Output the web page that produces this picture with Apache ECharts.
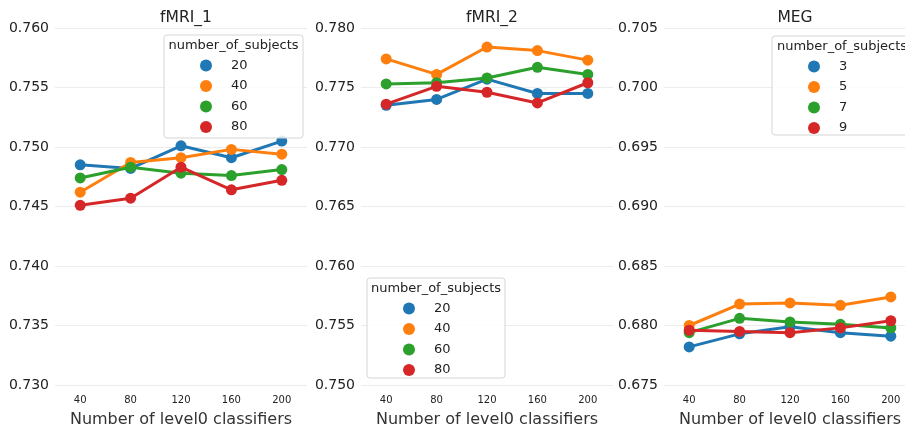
<!DOCTYPE html>
<html><head><meta charset="utf-8">
<script src="https://cdn.jsdelivr.net/npm/echarts@6/dist/echarts.min.js"></script>
<style>html,body{margin:0;padding:0;background:#fff}#c{width:905px;height:430px}</style>
</head><body><div id="c"></div>
<script>
const categories = ['40','80','120','160','200'];
const panelTitles = ['fMRI_1','fMRI_2','MEG'];
const legendTitle = 'number_of_subjects';
const xAxisName = 'Number of level0 classifiers';

const fmri1Names = ['20','40','60','80'];
const fmri1_20 = [0.7485,0.7482,0.7501,0.7491,0.7505];
const fmri1_40 = [0.7462,0.7487,0.7491,0.7498,0.7494];
const fmri1_60 = [0.7474,0.7483,0.7478,0.7476,0.7481];
const fmri1_80 = [0.7451,0.7457,0.7483,0.7464,0.7472];

const fmri2Names = ['20','40','60','80'];
const fmri2_20 = [0.7735,0.7740,0.7757,0.7745,0.7745];
const fmri2_40 = [0.7774,0.7761,0.7784,0.7781,0.7773];
const fmri2_60 = [0.7753,0.7754,0.7758,0.7767,0.7761];
const fmri2_80 = [0.7736,0.7751,0.7746,0.7737,0.7754];

const megNames = ['3','5','7','9'];
const meg_3 = [0.6782,0.6793,0.6799,0.6794,0.6791];
const meg_5 = [0.6800,0.6818,0.6819,0.6817,0.6824];
const meg_7 = [0.6794,0.6806,0.6803,0.6801,0.6798];
const meg_9 = [0.6796,0.6795,0.6794,0.6798,0.6804];

const yMins = [0.730,0.750,0.675];
const yMaxs = [0.760,0.780,0.705];
const yStep = 0.005;

const colors = ['#1f77b4','#ff7f0e','#2ca02c','#d62728'];
const FONT = '"DejaVu Sans",sans-serif';

const panels = [
  {names: fmri1Names, data: [fmri1_20,fmri1_40,fmri1_60,fmri1_80]},
  {names: fmri2Names, data: [fmri2_20,fmri2_40,fmri2_60,fmri2_80]},
  {names: megNames, data: [meg_3,meg_5,meg_7,meg_9]}
];
const gridLeft = [55, 361, 664];
const gridWidth = [252, 252, 252];

const grids = [], xAxes = [], yAxes = [], series = [], titles = [], legends = [], graphics = [];
panels.forEach((p, i) => {
  grids.push({left: gridLeft[i], width: gridWidth[i], top: 28, bottom: 45,
    containLabel: false, outerBoundsMode: 'none'});
  titles.push({text: panelTitles[i], left: gridLeft[i] + gridWidth[i]/2, top: 5, textAlign: 'center',
    textStyle: {fontFamily: FONT, fontSize: 15.5, fontWeight: 'normal', color: '#222'}});
  xAxes.push({type: 'category', gridIndex: i, data: categories, boundaryGap: true,
    axisLine: {show: false}, axisTick: {show: false},
    axisLabel: {fontFamily: FONT, fontSize: 10, color: '#222', margin: 10},
    name: xAxisName, nameLocation: 'middle', nameGap: 27,
    nameTextStyle: {fontFamily: FONT, fontSize: 16, color: '#333'}});
  yAxes.push({type: 'value', gridIndex: i, min: yMins[i], max: yMaxs[i], interval: yStep,
    axisLine: {show: false}, axisTick: {show: false},
    axisLabel: {fontFamily: FONT, fontSize: 14, color: '#222', margin: 6, formatter: v => v.toFixed(3)},
    splitLine: {show: true, lineStyle: {color: '#ececec', width: 1}}});
  p.names.forEach((n, k) => {
    series.push({type: 'line', name: n, xAxisIndex: i, yAxisIndex: i, data: p.data[k],
      symbol: 'circle', symbolSize: 11, color: colors[k],
      lineStyle: {width: 3, color: colors[k]}, itemStyle: {color: colors[k]}, z: 2 + k,
      emphasis: {disabled: true}, animation: false});
  });
});

const legendBoxes = [
  {x: 164, y: 35, w: 139, h: 103},
  {x: 367, y: 278, w: 138, h: 100},
  {x: 772, y: 36, w: 140, h: 99}
];
legendBoxes.forEach((b, i) => {
  graphics.push({type: 'rect', shape: {x: b.x, y: b.y, width: b.w, height: b.h, r: 3},
    style: {fill: 'rgba(255,255,255,0.85)', stroke: '#d6d6d6', lineWidth: 1}, z: 50});
  graphics.push({type: 'text', x: b.x + b.w/2, y: b.y + 11,
    style: {text: legendTitle, fontFamily: FONT, fontSize: 13, fill: '#222', textAlign: 'center', textVerticalAlign: 'middle'}, z: 51});
  legends.push({orient: 'vertical', left: b.x + 36, top: b.y + 24, icon: 'circle',
    itemWidth: 40, itemHeight: 12, itemGap: 7.5, padding: 0, selectedMode: false, z: 52,
    data: panels[i].names.map(n => ({name: n})),
    textStyle: {fontFamily: FONT, fontSize: 13, color: '#222'}});
});

const chart = echarts.init(document.getElementById('c'), null, {renderer: 'canvas'});
chart.setOption({
  animation: false,
  backgroundColor: '#fff',
  title: titles, grid: grids, xAxis: xAxes, yAxis: yAxes, series: series,
  legend: legends, graphic: graphics
});
</script></body></html>
